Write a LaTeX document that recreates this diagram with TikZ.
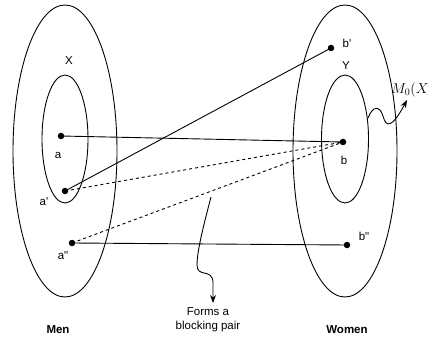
\documentclass[tikz,border=0pt]{standalone}
\usepackage{fontspec}
\setmainfont{Liberation Sans}
\usetikzlibrary{arrows.meta}
\begin{document}
\begin{tikzpicture}[x=1pt,y=-1pt,
  setline/.style={draw, line width=0.9pt},
  dot/.style={circle, fill=black, inner sep=0pt, minimum size=6.5pt},
  lbl/.style={font=\fontsize{11.5}{13}\selectfont, inner sep=0pt},
  head/.style={font=\fontsize{11.5}{13}\selectfont\bfseries, inner sep=0pt},
  link/.style={line width=0.9pt},
  blocking/.style={line width=0.9pt, dash pattern=on 3pt off 3pt},
  wave/.style={line width=0.9pt, -{Stealth[length=8pt,width=6pt]}},
  ]
\useasboundingbox (0,0) rectangle (428,339);
\clip (0,0) rectangle (428,339);

% the two sets and their subsets
\draw[setline] (65,151) ellipse [x radius=52pt, y radius=146pt];
\draw[setline] (65,139) ellipse [x radius=23pt, y radius=64pt];
\draw[setline] (345,151) ellipse [x radius=52pt, y radius=146pt];
\draw[setline] (345,139) ellipse [x radius=23.5pt, y radius=64pt];

% agents
\node[dot] (a)  at (61,136) {};
\node[dot] (a1) at (65,191) {};
\node[dot] (a2) at (72,243) {};
\node[dot] (b1) at (331,48) {};
\node[dot] (b)  at (343,142) {};
\node[dot] (b2) at (347,245) {};

% matching edges
\draw[link] (a.center) -- (b.center);
\draw[link] (a1.center) -- (b1.center);
\draw[link] (a2.center) -- (b2.center);
\draw[blocking] (a1.center) -- (b.center);
\draw[blocking] (a2.center) -- (b.center);

% labels (straight primes)
\node[lbl] (lX)  at (69,61) {X};
\node[lbl] (la)  at (58,155) {a};
\node[lbl] (la1) at (44,202) {a\textquotesingle};
\node[lbl] (la2) at (63,256) {a\textquotedbl};
\node[lbl] (lb1) at (347,43) {b\textquotesingle};
\node[lbl] (lY)  at (346,66) {Y};
\node[lbl] (lb)  at (344,160) {b};
\node[lbl] (lb2) at (364,236) {b\textquotedbl};
\node[head] (men)   at (58,330) {Men};
\node[head] (women) at (347,330) {Women};
\node[lbl, align=center, font=\fontsize{11.5}{14}\selectfont] (bp) at (208,320) {Forms a\\blocking pair};
\node[anchor=west, inner sep=0pt, font=\fontsize{14}{16}\selectfont] (m0) at (391,90) {$M_0(X$};

% wavy pointers
\coordinate (ys) at (368,118);
\draw[wave] (ys) .. controls (373,105) and (380,106) .. (383,116)
  .. controls (386,128) and (392,128) .. (407,100);
\coordinate (bs) at (211,197);
\draw[wave] (bs) .. controls (205,220) and (197,250) .. (197,265)
  .. controls (197,278) and (212,268) .. (213,282) -- (213,303);
\end{tikzpicture}
\end{document}
